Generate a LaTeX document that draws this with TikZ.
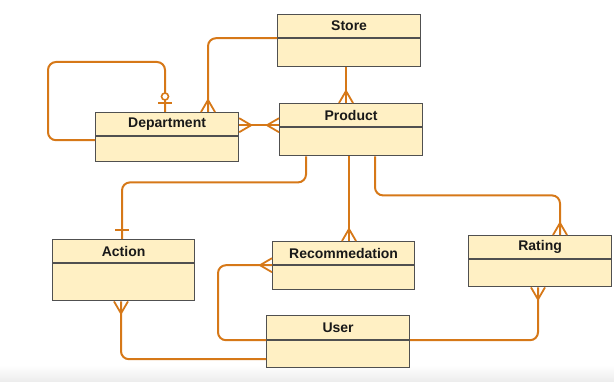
\documentclass[tikz,border=0pt]{standalone}
\usepackage{fontspec}
\setmainfont{Liberation Sans}
\usetikzlibrary{calc}
\definecolor{lnk}{RGB}{214,120,24}
\definecolor{boxfill}{RGB}{255,240,196}
\definecolor{boxline}{RGB}{80,80,80}
\definecolor{txt}{RGB}{25,25,25}
\tikzset{
  head/.style={draw=boxline, line width=1.2pt, fill=boxfill, anchor=north west, inner sep=0pt,
    font=\fontsize{14}{16}\selectfont\bfseries, text=txt, minimum height=23pt},
  body/.style={draw=boxline, line width=1.2pt, fill=boxfill, anchor=north west, inner sep=0pt},
  conn/.style={draw=lnk, line width=2pt, rounded corners=8pt},
  crow/.pic={\draw[lnk, line width=1.8pt] (-7,0) -- (0,12) -- (7,0);},
  onebar/.pic={\draw[lnk, line width=1.8pt] (-7,9) -- (7,9);},
  zeroone/.pic={\draw[lnk, line width=1.8pt] (-7,9) -- (7,9); \draw[lnk, line width=1.6pt, fill=white] (0,15.5) circle (3.5);}
}
\begin{document}
\begin{tikzpicture}[x=1pt,y=1pt]
\useasboundingbox (0,0) rectangle (614,381);
\shade[top color=white, bottom color=black!7] (0,0) rectangle (614,16);
% entities
\node[head, minimum width=143pt] (store) at (277,367) {Store};
\node[body, minimum width=143pt, minimum height=28pt] (storeb) at (store.south west) {};
\node[head, minimum width=143pt] (product) at (279,278) {Product};
\node[body, minimum width=143pt, minimum height=28pt] (productb) at (product.south west) {};
\node[head, minimum width=143pt] (dept) at (95,269) {Department};
\node[body, minimum width=143pt, minimum height=25pt] (deptb) at (dept.south west) {};
\node[head, minimum width=142pt] (action) at (52,142) {Action};
\node[body, minimum width=142pt, minimum height=37pt] (actionb) at (action.south west) {};
\node[head, minimum width=142pt] (rec) at (272,140) {Recommedation};
\node[body, minimum width=142pt, minimum height=24pt] (recb) at (rec.south west) {};
\node[head, minimum width=143pt] (rating) at (468,146) {Rating};
\node[body, minimum width=143pt, minimum height=27pt] (ratingb) at (rating.south west) {};
\node[head, minimum width=143pt, minimum height=24pt] (user) at (266,66) {User};
\node[body, minimum width=143pt, minimum height=27pt] (userb) at (user.south west) {};
% connectors
% Store - Department
\draw[conn] (store.south west) -| ([xshift=113pt]dept.north west) coordinate (sd);
\pic at (sd) {crow};
% Department self loop
\coordinate (loopa) at (48,319);
\draw[conn] ([yshift=-4pt]deptb.north west) -| (loopa) -| ([xshift=70pt]dept.north west) coordinate (dd);
\pic at (dd) {zeroone};
% Product - Department
\coordinate (pd1) at ([yshift=2pt]productb.north west);
\coordinate (pd2) at (dept.east |- pd1);
\draw[conn] (pd1) -- (pd2);
\pic[rotate=90] at (pd1) {crow};
\pic[rotate=-90] at (pd2) {crow};
% Store - Product
\draw[conn] ([xshift=69pt]storeb.south west) -- ([xshift=67pt]product.north west) coordinate (sp);
\pic at (sp) {crow};
% Product - Action
\draw[conn] ([xshift=27pt]productb.south west) -- ++(0,-26) -| ([xshift=70pt]action.north west) coordinate (pa);
\pic at (pa) {onebar};
% Product - Recommedation
\draw[conn] ([xshift=70pt]productb.south west) -- ([xshift=77pt]rec.north west) coordinate (pr);
\pic at (pr) {crow};
% Product - Rating
\draw[conn] ([xshift=96pt]productb.south west) -- ++(0,-39) -| ([xshift=92pt]rating.north west) coordinate (prt);
\pic at (prt) {crow};
% User - Recommedation
\coordinate (loopb) at (218,0);
\draw[conn] (user.south west) -| (loopb |- rec.south west) -- (rec.south west) coordinate (ur);
\pic[rotate=90] at (ur) {crow};
% User - Action
\draw[conn] ([yshift=-19pt]userb.north west) -| ([xshift=69pt]actionb.south west) coordinate (ua);
\pic[rotate=180] at (ua) {crow};
% User - Rating
\draw[conn] (user.south east) -| ([xshift=70pt]ratingb.south west) coordinate (urt);
\pic[rotate=180] at (urt) {crow};
\end{tikzpicture}
\end{document}
